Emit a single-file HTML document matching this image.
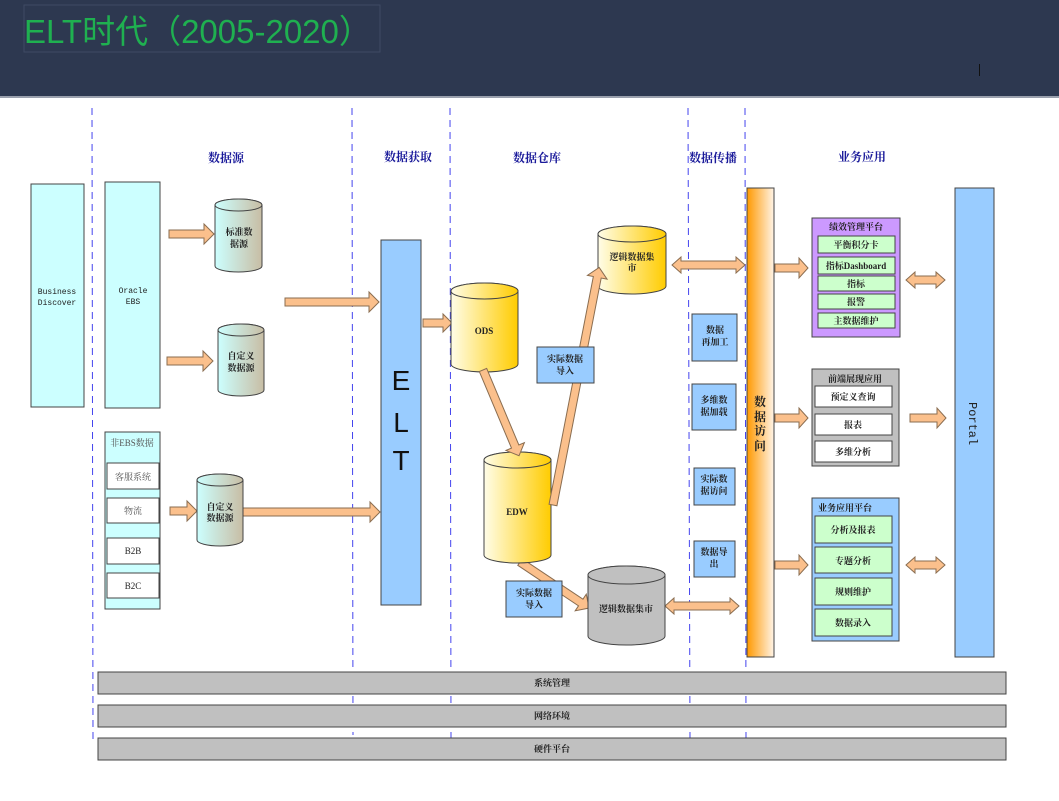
<!DOCTYPE html>
<html><head><meta charset="utf-8"><style>
body{margin:0;width:1059px;height:796px;overflow:hidden;background:#fff;font-family:"Liberation Sans","Noto Sans CJK SC",sans-serif}
</style></head><body>
<svg width="1059" height="796" xmlns="http://www.w3.org/2000/svg" font-family="'Liberation Serif','Noto Serif CJK SC',serif">
<defs>
<linearGradient id="tc" x1="0" x2="1"><stop offset="0" stop-color="#ccffff"/><stop offset="1" stop-color="#c8bda4"/></linearGradient>
<linearGradient id="yc" x1="0" x2="1"><stop offset="0" stop-color="#fffde8"/><stop offset="1" stop-color="#ffcc00"/></linearGradient>
<linearGradient id="or" x1="0" x2="1"><stop offset="0" stop-color="#ff9900"/><stop offset="1" stop-color="#fff4e8"/></linearGradient>
</defs>
<rect x="0" y="0" width="1059" height="96" fill="#2d3850"/>
<rect x="0" y="96" width="1059" height="2" fill="#9aa0ad"/>
<rect x="24" y="5" width="356" height="47" fill="none" stroke="#3e4a63"/>
<text x="24" y="43" font-family="'Liberation Sans','Noto Sans CJK SC',sans-serif" font-size="33" fill="#1fb050">ELT时代（2005-2020）</text>
<rect x="979" y="64" width="1" height="12" fill="#111"/>

<g stroke="#4444ee" stroke-dasharray="7,5" stroke-width="1">
<line x1="92" y1="108" x2="93" y2="740"/><line x1="352" y1="108" x2="353" y2="735"/>
<line x1="450" y1="108" x2="451" y2="740"/><line x1="688" y1="108" x2="690" y2="740"/>
<line x1="745" y1="108" x2="746" y2="740"/>
</g>

<g font-weight="bold" font-size="12" fill="#1a1a9a" text-anchor="middle">
<text x="226" y="162">数据源</text><text x="408" y="161">数据获取</text><text x="537" y="162">数据仓库</text><text x="713" y="162">数据传播</text><text x="862" y="161">业务应用</text>
</g>

<g fill="#fbc08c" stroke="#8a6d50" stroke-width="1">
<g transform="translate(169,234)"><polygon points="0,-4 35,-4 35,-10 45,0 35,10 35,4 0,4"/></g>
<g transform="translate(167,361)"><polygon points="0,-4 36,-4 36,-10 46,0 36,10 36,4 0,4"/></g>
<g transform="translate(170,511)"><polygon points="0,-4 17,-4 17,-10 27,0 17,10 17,4 0,4"/></g>
<g transform="translate(285,302)"><polygon points="0,-4 84,-4 84,-10 94,0 84,10 84,4 0,4"/></g>
<g transform="translate(240,512)"><polygon points="0,-4 130,-4 130,-10 140,0 130,10 130,4 0,4"/></g>
<g transform="translate(423,323)"><polygon points="0,-4 20,-4 20,-9 29,0 20,9 20,4 0,4"/></g>
<g transform="translate(520,562) rotate(33.7)"><polygon points="0,-4 73,-4 73,-10 83,0 73,10 73,4 0,4"/></g>
<g transform="translate(775,268)"><polygon points="0,-4 24,-4 24,-10 33,0 24,10 24,4 0,4"/></g>
<g transform="translate(775,418)"><polygon points="0,-4 24,-4 24,-10 33,0 24,10 24,4 0,4"/></g>
<g transform="translate(775,565)"><polygon points="0,-4 24,-4 24,-10 33,0 24,10 24,4 0,4"/></g>
<g transform="translate(910,418)"><polygon points="0,-4 27,-4 27,-10 36,0 27,10 27,4 0,4"/></g>
<g transform="translate(672,265)"><polygon points="0,0 9,-8 9,-4 64,-4 64,-8 73,0 64,8 64,4 9,4 9,8"/></g>
<g transform="translate(665,606)"><polygon points="0,0 9,-8 9,-4 65,-4 65,-8 74,0 65,8 65,4 9,4 9,8"/></g>
<g transform="translate(906,280)"><polygon points="0,0 9,-8 9,-4 30,-4 30,-8 39,0 30,8 30,4 9,4 9,8"/></g>
<g transform="translate(906,565)"><polygon points="0,0 9,-8 9,-4 30,-4 30,-8 39,0 30,8 30,4 9,4 9,8"/></g>
</g>

<g stroke="#444" stroke-width="1">
<rect x="31" y="184" width="53" height="223" fill="#ccffff"/>
<rect x="105" y="182" width="55" height="226" fill="#ccffff"/>
<rect x="105" y="432" width="55" height="177" fill="#ccffff"/>
<rect x="107" y="463" width="52" height="26" fill="#fff"/>
<rect x="107" y="498" width="52" height="25" fill="#fff"/>
<rect x="107" y="538" width="52" height="26" fill="#fff"/>
<rect x="107" y="573" width="52" height="25" fill="#fff"/>
<rect x="381" y="240" width="40" height="365" fill="#99ccff"/>
<rect x="692" y="314" width="45" height="47" fill="#99ccff"/>
<rect x="692" y="384" width="44" height="46" fill="#99ccff"/>
<rect x="694" y="468" width="41" height="37" fill="#99ccff"/>
<rect x="694" y="541" width="41" height="36" fill="#99ccff"/>
<rect x="747" y="188" width="27" height="469" fill="url(#or)"/>
<rect x="955" y="188" width="39" height="469" fill="#99ccff"/>
<rect x="812" y="218" width="88" height="119" fill="#cc99ff"/>
<rect x="818" y="236" width="77" height="17" fill="#ccffcc"/>
<rect x="818" y="257" width="77" height="17" fill="#ccffcc"/>
<rect x="818" y="276" width="77" height="15" fill="#ccffcc"/>
<rect x="818" y="294" width="77" height="15" fill="#ccffcc"/>
<rect x="818" y="313" width="77" height="15" fill="#ccffcc"/>
<rect x="812" y="369" width="87" height="97" fill="#c0c0c0"/>
<rect x="815" y="386" width="77" height="21" fill="#fff"/>
<rect x="815" y="414" width="77" height="21" fill="#fff"/>
<rect x="815" y="441" width="77" height="21" fill="#fff"/>
<rect x="812" y="498" width="87" height="143" fill="#99ccff"/>
<rect x="815" y="516" width="77" height="27" fill="#ccffcc"/>
<rect x="815" y="547" width="77" height="26" fill="#ccffcc"/>
<rect x="815" y="578" width="77" height="27" fill="#ccffcc"/>
<rect x="815" y="609" width="77" height="27" fill="#ccffcc"/>
<rect x="98" y="672" width="908" height="22" fill="#c0c0c0"/>
<rect x="98" y="705" width="908" height="22" fill="#c0c0c0"/>
<rect x="98" y="738" width="908" height="22" fill="#c0c0c0"/>
</g>

<g stroke="#444" stroke-width="1">
<path d="M215,205 V266 A23.5,6 0 0 0 262,266 V205 A23.5,6 0 0 0 215,205 Z" fill="url(#tc)"/><ellipse cx="238.5" cy="205" rx="23.5" ry="6" fill="url(#tc)"/>
<path d="M218,330 V390 A23,6 0 0 0 264,390 V330 A23,6 0 0 0 218,330 Z" fill="url(#tc)"/><ellipse cx="241" cy="330" rx="23" ry="6" fill="url(#tc)"/>
<path d="M197,480 V540 A23,6 0 0 0 243,540 V480 A23,6 0 0 0 197,480 Z" fill="url(#tc)"/><ellipse cx="220" cy="480" rx="23" ry="6" fill="url(#tc)"/>
<path d="M451,291 V364 A33.5,8 0 0 0 518,364 V291 A33.5,8 0 0 0 451,291 Z" fill="url(#yc)"/><ellipse cx="484.5" cy="291" rx="33.5" ry="8" fill="url(#yc)"/>
<path d="M484,460 V555 A33.5,8 0 0 0 551,555 V460 A33.5,8 0 0 0 484,460 Z" fill="url(#yc)"/><ellipse cx="517.5" cy="460" rx="33.5" ry="8" fill="url(#yc)"/>
<path d="M598,234 V286 A34,8 0 0 0 666,286 V234 A34,8 0 0 0 598,234 Z" fill="url(#yc)"/><ellipse cx="632" cy="234" rx="34" ry="8" fill="url(#yc)"/>
<path d="M588,575 V636 A38.5,9 0 0 0 665,636 V575 A38.5,9 0 0 0 588,575 Z" fill="#c0c0c0"/><ellipse cx="626.5" cy="575" rx="38.5" ry="9" fill="#c0c0c0"/>
</g>

<g fill="#fbc08c" stroke="#8a6d50" stroke-width="1">
<g transform="translate(483,370) rotate(67.2)"><polygon points="0,-4 83,-4 83,-10 93,0 83,10 83,4 0,4"/></g>
<g transform="translate(553,505) rotate(-79)"><polygon points="0,-4 232,-4 232,-10 242,0 232,10 232,4 0,4"/></g>
</g>
<g stroke="#444" stroke-width="1">
<rect x="537" y="347" width="57" height="36" fill="#99ccff"/>
<rect x="506" y="581" width="56" height="36" fill="#99ccff"/>
</g>

<g font-size="9" fill="#222" text-anchor="middle">
<text x="57" y="294" font-family="'Liberation Mono',monospace" font-size="8">Business</text>
<text x="57" y="305" font-family="'Liberation Mono',monospace" font-size="8">Discover</text>
<text x="133" y="293" font-family="'Liberation Mono',monospace" font-size="8">Oracle</text>
<text x="133" y="304" font-family="'Liberation Mono',monospace" font-size="8">EBS</text>
<text x="132" y="446" fill="#555">非EBS数据</text>
<text x="133" y="480" fill="#555">客服系统</text>
<text x="133" y="514" fill="#555">物流</text>
<text x="133" y="554">B2B</text>
<text x="133" y="589">B2C</text>
<g font-weight="bold">
<text x="239" y="235">标准数</text><text x="239" y="247">据源</text>
<text x="241" y="359">自定义</text><text x="241" y="371">数据源</text>
<text x="220" y="510">自定义</text><text x="220" y="521">数据源</text>
<text x="484" y="334">ODS</text><text x="517" y="515">EDW</text>
<text x="632" y="260">逻辑数据集</text><text x="632" y="271">市</text>
<text x="626" y="612">逻辑数据集市</text>
<text x="565" y="362">实际数据</text><text x="565" y="374">导入</text>
<text x="534" y="596">实际数据</text><text x="534" y="608">导入</text>
<text x="715" y="333">数据</text><text x="715" y="345">再加工</text>
<text x="714" y="403">多维数</text><text x="714" y="415">据加载</text>
<text x="714" y="482">实际数</text><text x="714" y="494">据访问</text>
<text x="714" y="555">数据导</text><text x="714" y="567">出</text>
<text x="856" y="230">绩效管理平台</text>
<text x="856" y="248">平衡积分卡</text><text x="856" y="269">指标Dashboard</text>
<text x="856" y="287">指标</text><text x="856" y="305">报警</text><text x="856" y="324">主数据维护</text>
<text x="855" y="382">前端展现应用</text>
<text x="853" y="400">预定义查询</text><text x="853" y="428">报表</text><text x="853" y="455">多维分析</text>
<text x="845" y="511">业务应用平台</text>
<text x="853" y="533">分析及报表</text><text x="853" y="564">专题分析</text><text x="853" y="595">规则维护</text><text x="853" y="626">数据录入</text>
<text x="552" y="686">系统管理</text><text x="552" y="719">网络环境</text><text x="552" y="752">硬件平台</text>
</g>
</g>
<g font-family="'Liberation Sans',sans-serif" font-size="28" fill="#111" text-anchor="middle">
<text x="401" y="390">E</text><text x="401" y="432">L</text><text x="401" y="470">T</text>
</g>
<g font-size="12" font-weight="bold" fill="#222" text-anchor="middle">
<text x="760" y="406">数</text><text x="760" y="421">据</text><text x="760" y="435">访</text><text x="760" y="450">问</text>
</g>
<text x="0" y="0" transform="translate(969,402) rotate(90)" font-family="'Liberation Mono',monospace" font-size="12" fill="#222">Portal</text>
</svg>
</body></html>
